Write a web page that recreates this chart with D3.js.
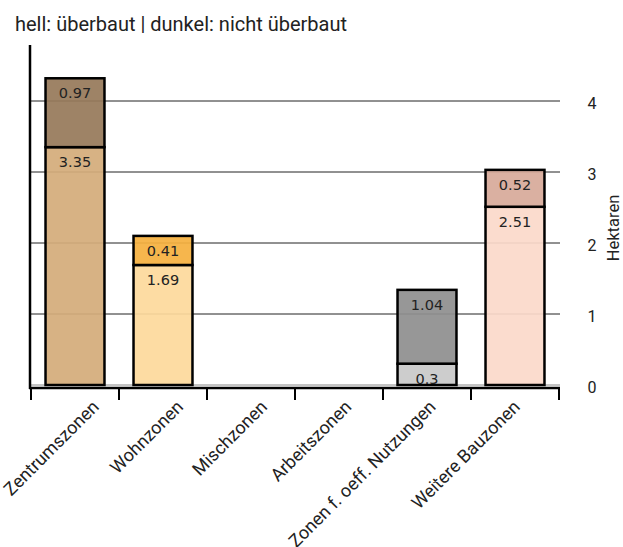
<!DOCTYPE html>
<html><head><meta charset="utf-8">
<script src="https://cdn.jsdelivr.net/npm/d3@7"></script>
<style>body{margin:0;background:#fff}svg{display:block}</style>
</head><body>
<svg id="chart" width="623" height="547"></svg>
<script>
const categories = ["Zentrumszonen","Wohnzonen","Mischzonen","Arbeitszonen","Zonen f. oeff. Nutzungen","Weitere Bauzonen"];
const ueberbaut = [3.35, 1.69, 0, 0, 0.3, 2.51];          // hell
const nichtUeberbaut = [0.97, 0.41, 0, 0, 1.04, 0.52];    // dunkel
const lightColors = ["#d4ac7b","#fdd99c","#c8e0b0","#b9cde6","#c9c9c9","#fbd9ca"];
const darkColors  = ["#977a5a","#f5b03f","#7fae5a","#6b8fc0","#8f8f8f","#d7aa9a"];
const yTicks = [0,1,2,3,4];
const titleText = "hell: überbaut | dunkel: nicht überbaut";
const yLabel = "Hektaren";

const svg = d3.select("#chart");
const x = d3.scaleBand().domain(categories).range([31,559]).paddingInner(0.33).paddingOuter(0.165);
const xLab = d3.scalePoint().domain(categories).range([100,521]);
const y = d3.scaleLinear().domain([0,4.8]).range([385, 385-4.8*71]);
const sans = "Roboto, Arial, sans-serif";

svg.append("text").attr("x",15).attr("y",31).text(titleText)
  .attr("font-family",sans).attr("font-size",20).attr("fill","#222");

// gridlines
svg.append("g").selectAll("line").data(yTicks).join("line")
  .attr("x1",31).attr("x2",560).attr("y1",d=>y(d)).attr("y2",d=>y(d))
  .attr("stroke",d=>d===0?"#888":"#222").attr("stroke-width",1);

// right tick labels
svg.append("g").selectAll("text").data(yTicks).join("text")
  .attr("x",592).attr("y",d=>y(d)+2).attr("text-anchor","middle").attr("dominant-baseline","central")
  .attr("font-family",sans).attr("font-size",16).attr("fill","#222").text(d=>d);

svg.append("text").attr("transform","translate(619,228) rotate(-90)").attr("text-anchor","middle")
  .attr("font-family",sans).attr("font-size",16.5).attr("fill","#222").text(yLabel);

// bars
const segs = [];
categories.forEach((c,i)=>{
  if (ueberbaut[i]>0) segs.push({c, y0:0, y1:ueberbaut[i], v:ueberbaut[i], fill:lightColors[i]});
  if (nichtUeberbaut[i]>0) segs.push({c, y0:ueberbaut[i], y1:ueberbaut[i]+nichtUeberbaut[i], v:nichtUeberbaut[i], fill:darkColors[i]});
});
const bars = svg.append("g");
bars.selectAll("rect").data(segs).join("rect")
  .attr("x",d=>x(d.c)).attr("width",x.bandwidth())
  .attr("y",d=>y(d.y1)).attr("height",d=>y(d.y0)-y(d.y1))
  .attr("fill",d=>d.fill).attr("fill-opacity",0.93)
  .attr("stroke","#000").attr("stroke-width",2.5);
bars.selectAll("text").data(segs).join("text")
  .attr("x",d=>x(d.c)+x.bandwidth()/2).attr("y",d=>y(d.y1)+15)
  .attr("text-anchor","middle").attr("dominant-baseline","central")
  .attr("font-family","'DejaVu Sans', sans-serif").attr("font-size",14.5).attr("fill","#222")
  .text(d=>d.v);

// left axis line
svg.append("line").attr("x1",30).attr("x2",30).attr("y1",45).attr("y2",389)
  .attr("stroke","#000").attr("stroke-width",2.5);

// x axis
const step = x.step();
const edges = categories.map(c=>x(c)-(step-x.bandwidth())/2).concat([559]);
const xa = svg.append("g");
xa.append("line").attr("x1",29).attr("x2",560).attr("y1",388).attr("y2",388)
  .attr("stroke","#000").attr("stroke-width",2.5);
xa.selectAll("line.t").data(edges).join("line").attr("class","t")
  .attr("x1",d=>d).attr("x2",d=>d).attr("y1",388).attr("y2",400)
  .attr("stroke","#000").attr("stroke-width",2);
xa.selectAll("text").data(categories).join("text")
  .attr("transform",d=>`translate(${xLab(d)},408) rotate(-45)`)
  .attr("text-anchor","end")
  .attr("font-family",sans).attr("font-size",18).attr("fill","#222").text(d=>d);
</script>
</body></html>
